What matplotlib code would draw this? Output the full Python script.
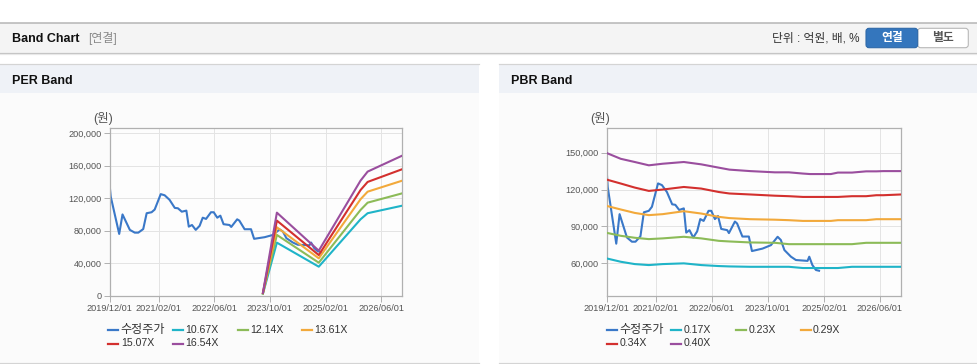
import matplotlib
matplotlib.use('Agg')
import matplotlib.pyplot as plt
from matplotlib.patches import Rectangle, FancyBboxPatch
from matplotlib.lines import Line2D
from matplotlib.transforms import IdentityTransform
from matplotlib.ticker import FuncFormatter
import pandas as pd

plt.rcParams['font.family'] = ['Liberation Sans', 'Noto Sans CJK KR', 'DejaVu Sans']

# ---------------- data ----------------
x_tick_labels = ['2019/12/01', '2021/02/01', '2022/06/01', '2023/10/01', '2025/02/01', '2026/06/01']
x_start, x_end = '2019-12-01', '2026-12-01'

price_name = '수정주가'
price_dates = ['2019-12-01', '2019-12-10', '2020-02-22', '2020-03-22', '2020-05-25', '2020-07-07',
               '2020-08-07', '2020-09-19', '2020-10-19', '2020-12-01', '2020-12-28', '2021-02-19',
               '2021-03-25', '2021-05-07', '2021-06-22', '2021-07-19', '2021-08-22', '2021-10-01',
               '2021-10-22', '2021-11-19', '2021-12-22', '2022-01-25', '2022-02-21', '2022-03-22',
               '2022-05-04', '2022-05-28', '2022-06-28', '2022-07-25', '2022-08-22', '2022-10-13',
               '2022-10-28', '2022-12-19', '2023-01-07', '2023-02-22', '2023-04-19', '2023-05-16',
               '2023-08-16', '2023-10-28', '2023-12-25', '2024-01-22', '2024-02-22', '2024-04-19',
               '2024-06-01', '2024-09-10', '2024-09-25', '2024-10-22', '2024-11-22', '2024-12-19']
price_values = [135000, 122000, 76000, 100000, 81000, 77600,
                77600, 82000, 101500, 102700, 106000, 125000,
                123600, 118000, 108000, 107600, 103400, 104700,
                85000, 87000, 81000, 86000, 96000, 94500,
                102700, 102700, 96000, 98500, 88000, 87000,
                84600, 94000, 92400, 81800, 81800, 70000,
                72000, 74800, 81600, 79000, 70800, 65400,
                62700, 62000, 65400, 58600, 54600, 54000]

per_band_names = ['10.67X', '12.14X', '13.61X', '15.07X', '16.54X']
per_band_dates = ['2023-08-01', '2023-12-01', '2024-12-01', '2025-12-01', '2026-02-01', '2026-12-01']
per_band_1067 = [2400, 65300, 35700, 94000, 101500, 110800]
per_band_1214 = [2700, 74800, 40600, 105500, 114500, 126000]
per_band_1361 = [3000, 84200, 46000, 118700, 128000, 141600]
per_band_1507 = [3300, 92400, 50000, 130000, 140000, 155700]
per_band_1654 = [3600, 102200, 55400, 141600, 152700, 172400]
per_yticks = [0, 40000, 80000, 120000, 160000, 200000]

pbr_band_names = ['0.17X', '0.23X', '0.29X', '0.34X', '0.40X']
pbr_band_dates = ['2019-12-01', '2020-04-01', '2020-08-01', '2020-12-01', '2021-04-01', '2021-10-01',
                  '2022-03-01', '2022-08-01', '2022-11-01', '2023-05-01', '2023-12-01', '2024-04-01',
                  '2024-08-01', '2024-10-01', '2025-04-01', '2025-06-01', '2025-10-01', '2026-02-01',
                  '2026-05-01', '2026-07-01', '2026-12-01']
pbr_band_017 = [64000, 61300, 59400, 58600, 59400, 60000, 58600, 57800, 57500, 57200, 57200, 57200,
                56200, 56200, 56200, 56200, 57200, 57200, 57200, 57200, 57200]
pbr_band_023 = [84800, 82400, 80800, 79700, 80300, 81600, 80300, 78300, 77800, 77000, 76700, 75600,
                75600, 75600, 75600, 75600, 75600, 76700, 76700, 76700, 76700]
pbr_band_029 = [106700, 103800, 101000, 99200, 100000, 102400, 100500, 97800, 96800, 95900, 95500, 95100,
                94500, 94500, 94500, 95100, 95100, 95100, 95900, 95900, 95900]
pbr_band_034 = [128100, 124900, 121600, 118900, 120000, 122100, 120800, 118000, 116800, 116000, 115000, 114600,
                114000, 114000, 114000, 114000, 114600, 114600, 115400, 115400, 116000]
pbr_band_040 = [149700, 145000, 142400, 139700, 141000, 142400, 140500, 137800, 136200, 135000, 134000, 134000,
                133000, 132600, 132600, 133800, 133800, 134800, 134800, 135000, 135000]
pbr_yticks = [60000, 90000, 120000, 150000]

price_color = '#3a78c8'
band_colors = ['#1fb4c8', '#8cbb58', '#f2a93b', '#d3302e', '#9a4e9e']

# ---------------- figure ----------------
W, H = 978, 364
fig = plt.figure(figsize=(W / 100, H / 100), dpi=100)
fig.patch.set_facecolor('white')
ID = IdentityTransform()


def rect(x, y, w, h, fc, ec='none', lw=0, z=-2):
    fig.add_artist(Rectangle((x, H - y - h), w, h, transform=ID, facecolor=fc,
                             edgecolor=ec, linewidth=lw, zorder=z))


def hline(x1, x2, y, color, lw=1.0, z=-1):
    fig.add_artist(Line2D([x1, x2], [H - y, H - y], transform=ID, color=color,
                          linewidth=lw * 0.72, zorder=z))


def text(x, y, s, **kw):
    fig.text(x, H - y, s, transform=ID, **kw)


# top header bar
rect(0, 22.5, W, 30, '#f4f4f4')
hline(0, W, 22.5, '#b4b4b4', 1.5)
hline(0, W, 52.8, '#c2c2c2', 1.2)
hline(0, W, 54.0, '#e8e8e8', 1.2)
text(12, 38.5, 'Band Chart', fontsize=9, fontweight='bold', color='#111111', va='center')
text(88, 38.5, '[연결]', fontsize=8.6, color='#8a8a8a', va='center')
text(860, 38.5, '단위 : 억원, 배, %', fontsize=8.5, color='#333333', va='center', ha='right')
fig.add_artist(FancyBboxPatch((917.7, H - 47.7), 50.6, 19.4, boxstyle='round,pad=0,rounding_size=3',
                              transform=ID, facecolor='white', edgecolor='#b8b8b8', linewidth=0.8, zorder=-1))
fig.add_artist(FancyBboxPatch((866, H - 47.7), 51.7, 19.4, boxstyle='round,pad=0,rounding_size=3',
                              transform=ID, facecolor='#3476bd', edgecolor='#2d68a8', linewidth=0.8, zorder=-1))
text(892, 38.3, '연결', fontsize=8.5, fontweight='bold', color='white', va='center', ha='center')
text(943, 38.3, '별도', fontsize=8.5, fontweight='bold', color='#555555', va='center', ha='center')

# panels
for px, title in [(0, 'PER Band'), (499, 'PBR Band')]:
    rect(px, 64, 479, 299, '#fbfbfb')
    rect(px, 64.5, 479, 28.5, '#eff2f7')
    hline(px, px + 479, 64.2, '#d4d4d4', 1.2)
    hline(px, px + 479, 362.6, '#d4d4d4', 1.2)
    text(px + 12, 80.5, title, fontsize=9, fontweight='bold', color='#111111', va='center')

text(93.5, 118.3, '(원)', fontsize=9, color='#555555', va='center')
text(590, 118.3, '(원)', fontsize=9, color='#555555', va='center')

tick_dates = pd.to_datetime(x_tick_labels, format='%Y/%m/%d')


def make_axes(left_px, right_px, ylim, yticks):
    ax = fig.add_axes([left_px / W, (H - 295.7) / H, (right_px - left_px) / W, (295.7 - 128.3) / H])
    ax.set_zorder(1)
    ax.set_facecolor('#fdfdfd')
    ax.set_xlim(pd.Timestamp(x_start), pd.Timestamp(x_end))
    ax.set_ylim(*ylim)
    ax.set_xticks(tick_dates)
    ax.set_xticklabels(x_tick_labels)
    ax.set_yticks(yticks)
    ax.yaxis.set_major_formatter(FuncFormatter(lambda v, p: f'{int(v):,}'))
    ax.grid(True, color='#e4e4e4', linewidth=0.7)
    ax.set_axisbelow(True)
    for s in ax.spines.values():
        s.set_color('#b0b0b0')
        s.set_linewidth(0.9)
    ax.tick_params(axis='both', colors='#b0b0b0', labelcolor='#555555', labelsize=6.6,
                   length=4, width=0.7, pad=2)
    return ax


# PER chart
ax1 = make_axes(109.7, 402.3, (0, 206000), per_yticks)
ax1.plot(pd.to_datetime(price_dates), price_values, color=price_color, lw=1.5, zorder=2)
per_bands = [per_band_1067, per_band_1214, per_band_1361, per_band_1507, per_band_1654]
for vals, c in zip(per_bands, band_colors):
    ax1.plot(pd.to_datetime(per_band_dates), vals, color=c, lw=1.5, zorder=3)

# PBR chart
ax2 = make_axes(606.7, 901.0, (33700, 169800), pbr_yticks)
ax2.plot(pd.to_datetime(price_dates), price_values, color=price_color, lw=1.5, zorder=2)
pbr_bands = [pbr_band_017, pbr_band_023, pbr_band_029, pbr_band_034, pbr_band_040]
for vals, c in zip(pbr_bands, band_colors):
    ax2.plot(pd.to_datetime(pbr_band_dates), vals, color=c, lw=1.5, zorder=3)


# legends
def draw_legend(x0, names, colors):
    for i, (n, c) in enumerate(zip(names, colors)):
        row, col = divmod(i, 4)
        x = x0 + col * 64.6
        y = 330.3 + row * 13.2
        fig.add_artist(Line2D([x, x + 10], [H - y, H - y], transform=ID, color=c, linewidth=1.6))
        size = 7.6 if n.isascii() else 8.7
        text(x + 12.5, y, n, fontsize=size, color='#333333', va='center')


draw_legend(108.3, [price_name] + per_band_names, [price_color] + band_colors)
draw_legend(606.7, [price_name] + pbr_band_names, [price_color] + band_colors)

fig.savefig('out.png', dpi=100, facecolor=fig.get_facecolor())
